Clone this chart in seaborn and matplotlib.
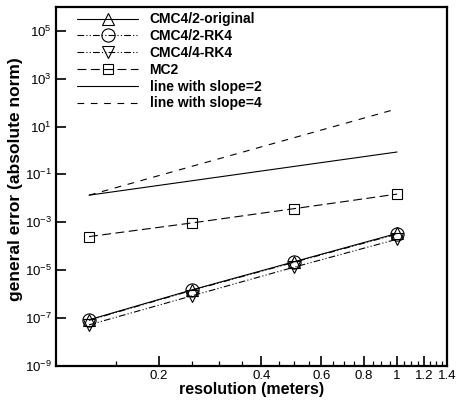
import numpy as np
import pandas as pd
import matplotlib
matplotlib.use("Agg")
import matplotlib.pyplot as plt
import matplotlib.ticker as mticker
import seaborn as sns

# ---- data ----
resolution = [0.125, 0.25, 0.5, 1.0]
cmc42_original = [8.3e-8, 1.47e-6, 2.24e-5, 3.4e-4]
cmc42_rk4 = [7.9e-8, 1.40e-6, 2.13e-5, 3.2e-4]
cmc44_rk4 = [5.1e-8, 8.3e-7, 1.33e-5, 1.95e-4]
mc2 = [2.5e-4, 9.3e-4, 3.7e-3, 1.5e-2]
slope_x = [0.125, 1.0]
slope2 = [0.0135, 0.864]
slope4 = [0.0135, 55.3]
labels = ["CMC4/2-original", "CMC4/2-RK4", "CMC4/4-RK4", "MC2",
          "line with slope=2", "line with slope=4"]

sns.set_style("ticks")
plt.rcParams["font.family"] = ["Liberation Sans", "DejaVu Sans"]
plt.rcParams["mathtext.default"] = "regular"
plt.rcParams["text.color"] = "black"
plt.rcParams["axes.labelcolor"] = "black"
plt.rcParams["xtick.color"] = "black"
plt.rcParams["ytick.color"] = "black"

fig = plt.figure(figsize=(4.57, 4.0), dpi=100)
ax = fig.add_axes([0.1225, 0.0858, 0.8555, 0.8967])

dashdotdot = (0, (6, 2, 1, 2, 1, 2))
series = [
    (resolution, cmc42_original, "^", "-", 9, labels[0]),
    (resolution, cmc42_rk4, "o", dashdotdot, 9.5, labels[1]),
    (resolution, cmc44_rk4, "v", dashdotdot, 9, labels[2]),
    (resolution, mc2, "s", (0, (8, 4)), 6.5, labels[3]),
]
for xs, ys, mk, ls, ms, lab in series:
    sns.lineplot(x=xs, y=ys, ax=ax, color="black", marker=mk, linestyle=ls,
                 markersize=ms, markerfacecolor="none", markeredgecolor="black",
                 markeredgewidth=0.8, linewidth=0.8, label=lab, sort=False)
sns.lineplot(x=slope_x, y=slope2, ax=ax, color="black", linestyle="-",
             linewidth=0.8, label=labels[4], sort=False)
sns.lineplot(x=slope_x, y=slope4, ax=ax, color="black", linestyle=(0, (6, 6)),
             linewidth=0.8, label=labels[5], sort=False)

ax.set_xscale("log")
ax.set_yscale("log")
ax.set_xlim(0.1, 1.4)
ax.set_ylim(1e-9, 1e6)

ax.xaxis.set_major_locator(mticker.FixedLocator([0.2, 0.4, 0.6, 0.8, 1.0, 1.2, 1.4]))
ax.xaxis.set_major_formatter(mticker.FixedFormatter(["0.2", "0.4", "0.6", "0.8", "1", "1.2", "1.4"]))
minor = [round(v, 2) for v in np.arange(0.15, 1.41, 0.05)]
minor = [v for v in minor if v not in (0.2, 0.4, 0.6, 0.8, 1.0, 1.2, 1.4)]
ax.xaxis.set_minor_locator(mticker.FixedLocator(minor))
ax.xaxis.set_minor_formatter(mticker.NullFormatter())

yt = [10.0 ** e for e in range(-9, 6, 2)]
ax.yaxis.set_major_locator(mticker.FixedLocator(yt))
ax.yaxis.set_major_formatter(mticker.LogFormatterSciNotation())
ax.yaxis.set_minor_locator(mticker.NullLocator())

ax.tick_params(axis="both", which="major", direction="in", length=7, width=1.2,
               labelsize=9.5, colors="black", pad=3)
ax.tick_params(axis="x", which="minor", direction="in", length=3.5, width=0.9)
ax.tick_params(top=False, right=False, which="both")
for s in ax.spines.values():
    s.set_visible(True)
    s.set_linewidth(1.6)
    s.set_color("black")

ax.set_xlabel("resolution (meters)", fontsize=11.5, fontweight="bold", labelpad=0)
ax.set_ylabel("general error (absolute norm)", fontsize=12.5, fontweight="bold")
ax.yaxis.set_label_coords(-0.084, 0.52)

leg = ax.legend(loc="upper left", frameon=False, handlelength=4.4, numpoints=1,
                prop={"weight": "bold", "size": 10}, labelspacing=0.2,
                borderaxespad=0.15, handletextpad=0.8, bbox_to_anchor=(0.035, 1.006))

fig.savefig("out.png", dpi=100)
